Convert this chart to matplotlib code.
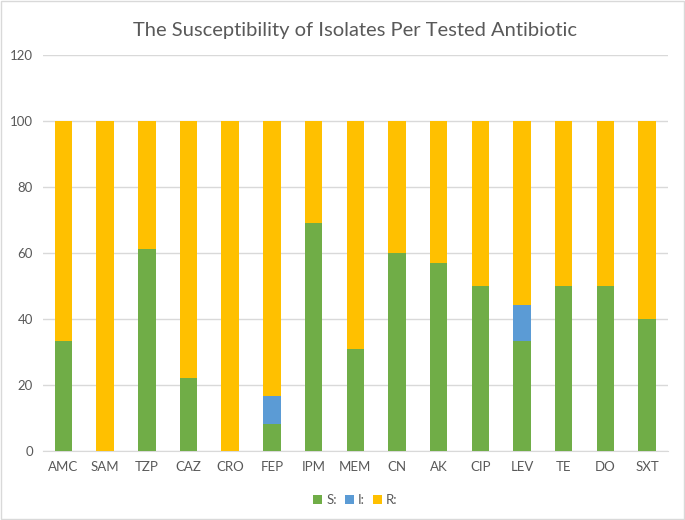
import numpy as np
import matplotlib.pyplot as plt
from matplotlib.patches import Rectangle

plt.rcParams['font.family'] = ['Lato', 'DejaVu Sans']

antibiotics = ["AMC", "SAM", "TZP", "CAZ", "CRO", "FEP", "IPM", "MEM",
               "CN", "AK", "CIP", "LEV", "TE", "DO", "SXT"]
s_vals = [33.3, 0, 61.1, 22.2, 0, 8.3, 69.2, 30.8, 60, 57.1, 50, 33.3, 50, 50, 40]
i_vals = [0, 0, 0, 0, 0, 8.3, 0, 0, 0, 0, 0, 11.1, 0, 0, 0]
r_vals = [66.7, 100, 38.9, 77.8, 100, 83.4, 30.8, 69.2, 40, 42.9, 50, 55.6, 50, 50, 60]

green = "#70AD47"
blue = "#5B9BD5"
yellow = "#FFC000"
text_col = "#595959"

fig = plt.figure(figsize=(6.85, 5.2), dpi=100)
ax = fig.add_axes([0.0623, 0.1327, 0.9127, 0.7613])

x = np.arange(len(antibiotics))
s = np.array(s_vals)
i = np.array(i_vals)
r = np.array(r_vals)
w = 0.42
ax.bar(x, s, w, color=green, label="S:", zorder=3)
ax.bar(x, i, w, bottom=s, color=blue, label="I:", zorder=3)
ax.bar(x, r, w, bottom=s + i, color=yellow, label="R:", zorder=3)

ax.set_xlim(-0.5, len(antibiotics) - 0.5)
ax.set_ylim(0, 120)
ax.set_yticks(np.arange(0, 121, 20))
ax.set_xticks(x)
ax.set_xticklabels(antibiotics)
ax.yaxis.grid(True, color="#D9D9D9", linewidth=1, zorder=0)
for side in ["top", "right", "left"]:
    ax.spines[side].set_visible(False)
ax.spines["bottom"].set_color("#D9D9D9")
ax.tick_params(length=0, labelsize=9.5, colors=text_col, pad=7)

ax.set_title("The Susceptibility of Isolates Per Tested Antibiotic",
             fontsize=14.5, color=text_col, pad=14)

ax.legend(loc="lower center", bbox_to_anchor=(0.5, -0.17), ncol=3, frameon=False,
          fontsize=9.5, labelcolor=text_col, handlelength=0.7, handleheight=0.7,
          handletextpad=0.3, columnspacing=0.6)

fig.patches.append(Rectangle((0.001, 0.001), 0.997, 0.997, transform=fig.transFigure,
                             fill=False, edgecolor="#D9D9D9", linewidth=1))

fig.savefig("out.png", dpi=100)
